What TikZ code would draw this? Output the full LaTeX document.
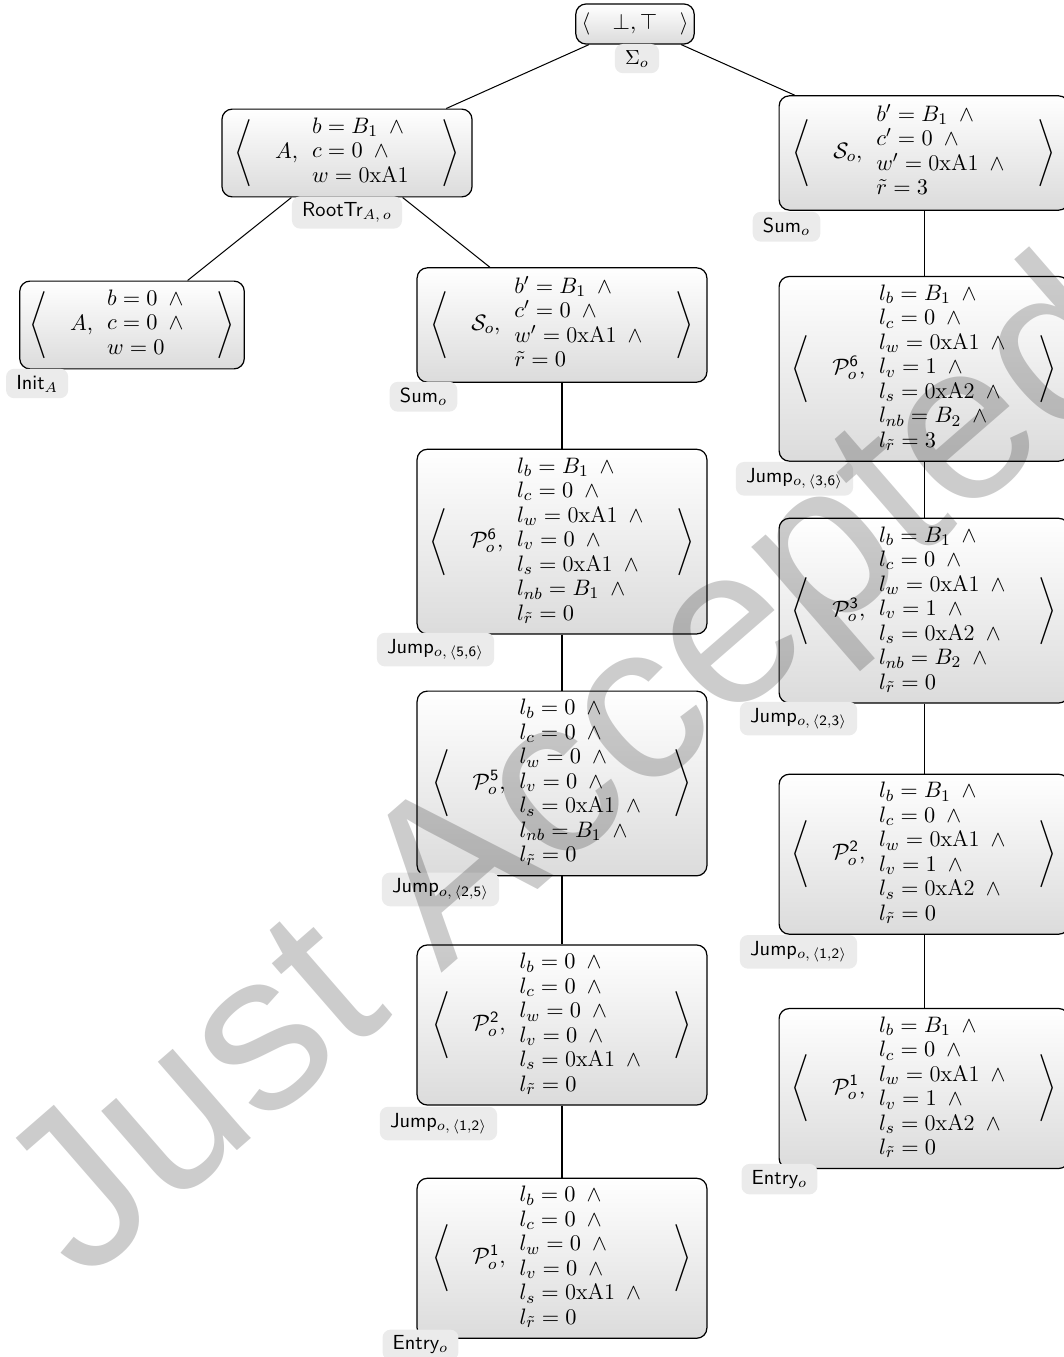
\documentclass[tikz,border=0pt]{standalone}
\usepackage{amsmath}
\usepackage{fontspec}
\newfontfamily\wmfont{Liberation Sans}
\usetikzlibrary{positioning, calc, backgrounds}

\newcommand{\tuple}[2]{$\left\langle\quad #1,\begin{array}{l}#2\end{array}\quad\right\rangle$}
\newcommand{\wand}{\ \,\wedge}
\newcommand{\hexa}[1]{\mathrm{0x#1}}

\begin{document}
\begin{tikzpicture}[
  x=0.49pt, y=-0.49pt,
  state/.style={rectangle, rounded corners=5pt, draw=black, line width=0.6pt,
    top color=white, bottom color=black!14, inner sep=3pt, minimum width=142pt,
    font=\fontsize{11}{12}\selectfont},
  small/.style={state, minimum height=43pt},
  sumbox/.style={state, minimum height=56pt},
  mid/.style={state, minimum height=78.4pt},
  tall/.style={state, minimum height=90.5pt},
  tag/.style={rectangle, rounded corners=4pt, fill=black!8, font=\sffamily,
    inner xsep=5pt, inner ysep=3pt, minimum height=13pt},
  link/.style={draw=black, line width=0.5pt},
  wmark/.style={rotate=41, font=\wmfont\fontsize{110}{110}\selectfont, text=black, text opacity=0.2}
]
\useasboundingbox (0,0) rectangle (1063,1357);

% top of the tree
\node[state, minimum width=58pt, minimum height=19.6pt, inner sep=2pt] (root) at (635,24)
  {$\langle\quad\bot,\top\quad\rangle$};
\node[small, minimum width=122.5pt] (nA) at (347,153)
  {\tuple{A}{b = B_1\wand\\ c = 0\wand\\ w = \hexa{A1}}};
\node[small, minimum width=110pt] (init) at (132,325)
  {\tuple{A}{b = 0\wand\\ c = 0\wand\\ w = 0}};

% left column
\node[sumbox] (sumL) at (562,325)
  {\tuple{\mathcal{S}_o}{b' = B_1\wand\\ c' = 0\wand\\ w' = \hexa{A1}\wand\\ \tilde{r} = 0}};
\node[tall, below=32.3pt of sumL] (p6L)
  {\tuple{\mathcal{P}^{\textsf{6}}_o}{l_b = B_1\wand\\ l_c = 0\wand\\ l_w = \hexa{A1}\wand\\ l_v = 0\wand\\ l_s = \hexa{A1}\wand\\ l_{nb} = B_1\wand\\ l_{\tilde{r}} = 0}};
\node[tall, below=27.4pt of p6L] (p5L)
  {\tuple{\mathcal{P}^{\textsf{5}}_o}{l_b = 0\wand\\ l_c = 0\wand\\ l_w = 0\wand\\ l_v = 0\wand\\ l_s = \hexa{A1}\wand\\ l_{nb} = B_1\wand\\ l_{\tilde{r}} = 0}};
\node[mid, below=33.3pt of p5L] (p2L)
  {\tuple{\mathcal{P}^{\textsf{2}}_o}{l_b = 0\wand\\ l_c = 0\wand\\ l_w = 0\wand\\ l_v = 0\wand\\ l_s = \hexa{A1}\wand\\ l_{\tilde{r}} = 0}};
\node[mid, below=35.3pt of p2L] (p1L)
  {\tuple{\mathcal{P}^{\textsf{1}}_o}{l_b = 0\wand\\ l_c = 0\wand\\ l_w = 0\wand\\ l_v = 0\wand\\ l_s = \hexa{A1}\wand\\ l_{\tilde{r}} = 0}};

% right column
\node[sumbox] (sumR) at (924,153)
  {\tuple{\mathcal{S}_o}{b' = B_1\wand\\ c' = 0\wand\\ w' = \hexa{A1}\wand\\ \tilde{r} = 3}};
\node[tall, below=31.9pt of sumR] (p6R)
  {\tuple{\mathcal{P}^{\textsf{6}}_o}{l_b = B_1\wand\\ l_c = 0\wand\\ l_w = \hexa{A1}\wand\\ l_v = 1\wand\\ l_s = \hexa{A2}\wand\\ l_{nb} = B_2\wand\\ l_{\tilde{r}} = 3}};
\node[tall, below=27.4pt of p6R] (p3R)
  {\tuple{\mathcal{P}^{\textsf{3}}_o}{l_b = B_1\wand\\ l_c = 0\wand\\ l_w = \hexa{A1}\wand\\ l_v = 1\wand\\ l_s = \hexa{A2}\wand\\ l_{nb} = B_2\wand\\ l_{\tilde{r}} = 0}};
\node[mid, below=34.3pt of p3R] (p2R)
  {\tuple{\mathcal{P}^{\textsf{2}}_o}{l_b = B_1\wand\\ l_c = 0\wand\\ l_w = \hexa{A1}\wand\\ l_v = 1\wand\\ l_s = \hexa{A2}\wand\\ l_{\tilde{r}} = 0}};
\node[mid, below=35.8pt of p2R] (p1R)
  {\tuple{\mathcal{P}^{\textsf{1}}_o}{l_b = B_1\wand\\ l_c = 0\wand\\ l_w = \hexa{A1}\wand\\ l_v = 1\wand\\ l_s = \hexa{A2}\wand\\ l_{\tilde{r}} = 0}};

\begin{scope}[on background layer]
\draw[link] (root)--(nA); \draw[link] (root)--(sumR);
\draw[link] (nA)--(init); \draw[link] (nA)--(sumL);
\draw[link] (sumL)--(p6L); \draw[link] (p6L)--(p5L);
\draw[link] (p5L)--(p2L); \draw[link] (p2L)--(p1L);
\draw[link] (sumR)--(p6R); \draw[link] (p6R)--(p3R);
\draw[link] (p3R)--(p2R); \draw[link] (p2R)--(p1R);
\end{scope}

% transition labels
\node[tag] (tRoot) at ($(root.south)+(2,14)$) {$\Sigma_o$};
\node[tag] (tA) at ($(nA.south)+(0,15)$) {RootTr$_{A,\,o}$};
\node[tag] (tInit) at ($(init.south west)+(18,14)$) {Init$_A$};
\node[tag] (tSumL) at ($(sumL.south west)+(7,14)$) {Sum$_o$};
\node[tag] (tJ56) at ($(p6L.south west)+(19,15)$) {Jump$_{o,\,\langle\textsf{5},\textsf{6}\rangle}$};
\node[tag] (tJ25) at ($(p5L.south west)+(24,13)$) {Jump$_{o,\,\langle\textsf{2},\textsf{5}\rangle}$};
\node[tag] (tJ12L) at ($(p2L.south west)+(22,18)$) {Jump$_{o,\,\langle\textsf{1},\textsf{2}\rangle}$};
\node[tag] (tEntL) at ($(p1L.south west)+(4,6)$) {Entry$_o$};
\node[tag] (tSumR) at ($(sumR.south west)+(8,16)$) {Sum$_o$};
\node[tag] (tJ36) at ($(p6R.south west)+(16,17)$) {Jump$_{o,\,\langle\textsf{3},\textsf{6}\rangle}$};
\node[tag] (tJ23) at ($(p3R.south west)+(20,15)$) {Jump$_{o,\,\langle\textsf{2},\textsf{3}\rangle}$};
\node[tag] (tJ12R) at ($(p2R.south west)+(20,17)$) {Jump$_{o,\,\langle\textsf{1},\textsf{2}\rangle}$};
\node[tag] (tEntR) at ($(p1R.south west)+(1,10)$) {Entry$_o$};

% watermark
\node[wmark] (wm) at (578,778) {Just Accepted};
\end{tikzpicture}
\end{document}
